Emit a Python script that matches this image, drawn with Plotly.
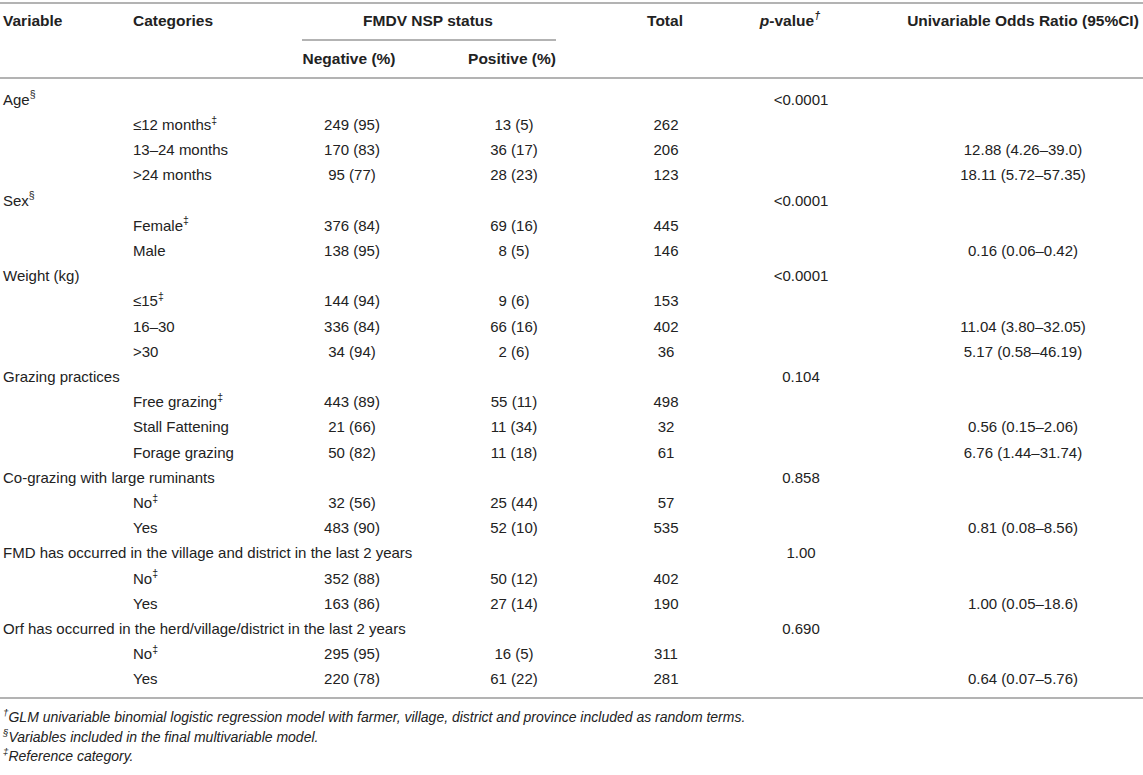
import plotly.graph_objects as go

# Table contents
variables = [
    "Age<sup>§</sup>",
    "Sex<sup>§</sup>",
    "Weight (kg)",
    "Grazing practices",
    "Co-grazing with large ruminants",
    "FMD has occurred in the village and district in the last 2 years",
    "Orf has occurred in the herd/village/district in the last 2 years",
]
p_values = ["&lt;0.0001", "&lt;0.0001", "&lt;0.0001", "0.104", "0.858", "1.00", "0.690"]
categories = [
    ["≤12 months<sup>‡</sup>", "13–24 months", "&gt;24 months"],
    ["Female<sup>‡</sup>", "Male"],
    ["≤15<sup>‡</sup>", "16–30", "&gt;30"],
    ["Free grazing<sup>‡</sup>", "Stall Fattening", "Forage grazing"],
    ["No<sup>‡</sup>", "Yes"],
    ["No<sup>‡</sup>", "Yes"],
    ["No<sup>‡</sup>", "Yes"],
]
negative = [
    ["249 (95)", "170 (83)", "95 (77)"],
    ["376 (84)", "138 (95)"],
    ["144 (94)", "336 (84)", "34 (94)"],
    ["443 (89)", "21 (66)", "50 (82)"],
    ["32 (56)", "483 (90)"],
    ["352 (88)", "163 (86)"],
    ["295 (95)", "220 (78)"],
]
positive = [
    ["13 (5)", "36 (17)", "28 (23)"],
    ["69 (16)", "8 (5)"],
    ["9 (6)", "66 (16)", "2 (6)"],
    ["55 (11)", "11 (34)", "11 (18)"],
    ["25 (44)", "52 (10)"],
    ["50 (12)", "27 (14)"],
    ["16 (5)", "61 (22)"],
]
totals = [
    ["262", "206", "123"],
    ["445", "146"],
    ["153", "402", "36"],
    ["498", "32", "61"],
    ["57", "535"],
    ["402", "190"],
    ["311", "281"],
]
odds_ratios = [
    ["", "12.88 (4.26–39.0)", "18.11 (5.72–57.35)"],
    ["", "0.16 (0.06–0.42)"],
    ["", "11.04 (3.80–32.05)", "5.17 (0.58–46.19)"],
    ["", "0.56 (0.15–2.06)", "6.76 (1.44–31.74)"],
    ["", "0.81 (0.08–8.56)"],
    ["", "1.00 (0.05–18.6)"],
    ["", "0.64 (0.07–5.76)"],
]
footnotes = [
    "<sup>†</sup>GLM univariable binomial logistic regression model with farmer, village, district and province included as random terms.",
    "<sup>§</sup>Variables included in the final multivariable model.",
    "<sup>‡</sup>Reference category.",
]

W, H = 1143, 775
ROW0, STEP = 101, 25.2  # pixel centre of first body row, row pitch
FONT = "Liberation Sans, Arial, sans-serif"
TXT = "#222222"
RULE = "#9a9a9a"


def row(pix):
    # convert a pixel offset from the top into row units on the y axis
    return (pix - ROW0) / STEP


# flatten groups into table rows
var_rows, var_text, p_text = [], [], []
cat_rows, cat_text, neg_text, pos_text, tot_text, or_text = [], [], [], [], [], []
r = 0
for i, v in enumerate(variables):
    var_rows.append(r)
    var_text.append(v)
    p_text.append(p_values[i])
    r += 1
    for j, c in enumerate(categories[i]):
        cat_rows.append(r)
        cat_text.append(c)
        neg_text.append(negative[i][j])
        pos_text.append(positive[i][j])
        tot_text.append(totals[i][j])
        or_text.append(odds_ratios[i][j])
        r += 1

fig = go.Figure()


def add_col(x, ys, texts, pos, size=15):
    fig.add_trace(go.Scatter(
        x=[x] * len(ys), y=ys, text=texts, mode="text",
        textposition=pos, hoverinfo="skip", showlegend=False, cliponaxis=False,
        textfont=dict(family=FONT, size=size, color=TXT),
    ))


# body
add_col(3, var_rows, var_text, "middle right")
add_col(801, var_rows, p_text, "middle center")
add_col(133, cat_rows, cat_text, "middle right")
add_col(352, cat_rows, neg_text, "middle center")
add_col(514, cat_rows, pos_text, "middle center")
add_col(666, cat_rows, tot_text, "middle center")
add_col(1023, cat_rows, or_text, "middle center")

# header
h1, h2 = row(22), row(60)
HS = 15.5
add_col(3, [h1], ["<b>Variable</b>"], "middle right", HS)
add_col(133, [h1], ["<b>Categories</b>"], "middle right", HS)
add_col(428, [h1], ["<b>FMDV NSP status</b>"], "middle center", HS)
add_col(349, [h2], ["<b>Negative (%)</b>"], "middle center", HS)
add_col(512, [h2], ["<b>Positive (%)</b>"], "middle center", HS)
add_col(665, [h1], ["<b>Total</b>"], "middle center", HS)
add_col(790, [h1], ["<b><i>p</i>-value<sup><i>†</i></sup></b>"], "middle center", HS)
add_col(1023, [h1], ["<b>Univariable Odds Ratio (95%CI)</b>"], "middle center", HS)

# footnotes
add_col(3, [row(718), row(738), row(757)], ["<i>%s</i>" % f for f in footnotes],
        "middle right", size=14)

# horizontal rules
for y0, x0, x1 in [(3, 0, W), (40, 302, 556), (78, 0, W), (698, 0, W)]:
    fig.add_shape(type="line", xref="x", yref="y", x0=x0, x1=x1,
                  y0=row(y0), y1=row(y0), line=dict(color=RULE, width=1.5))

# axes in page pixels
fig.update_xaxes(range=[0, W], visible=False, fixedrange=True)
fig.update_yaxes(range=[row(H), row(0)], visible=False, fixedrange=True)
fig.update_layout(
    width=W, height=H,
    margin=dict(l=0, r=0, t=0, b=0),
    paper_bgcolor="white", plot_bgcolor="white",
)

# drop the default page margin so the figure sits at the window corner
fig.write_html("out.html", config={"displayModeBar": False},
               post_script="document.body.style.margin='0';")
